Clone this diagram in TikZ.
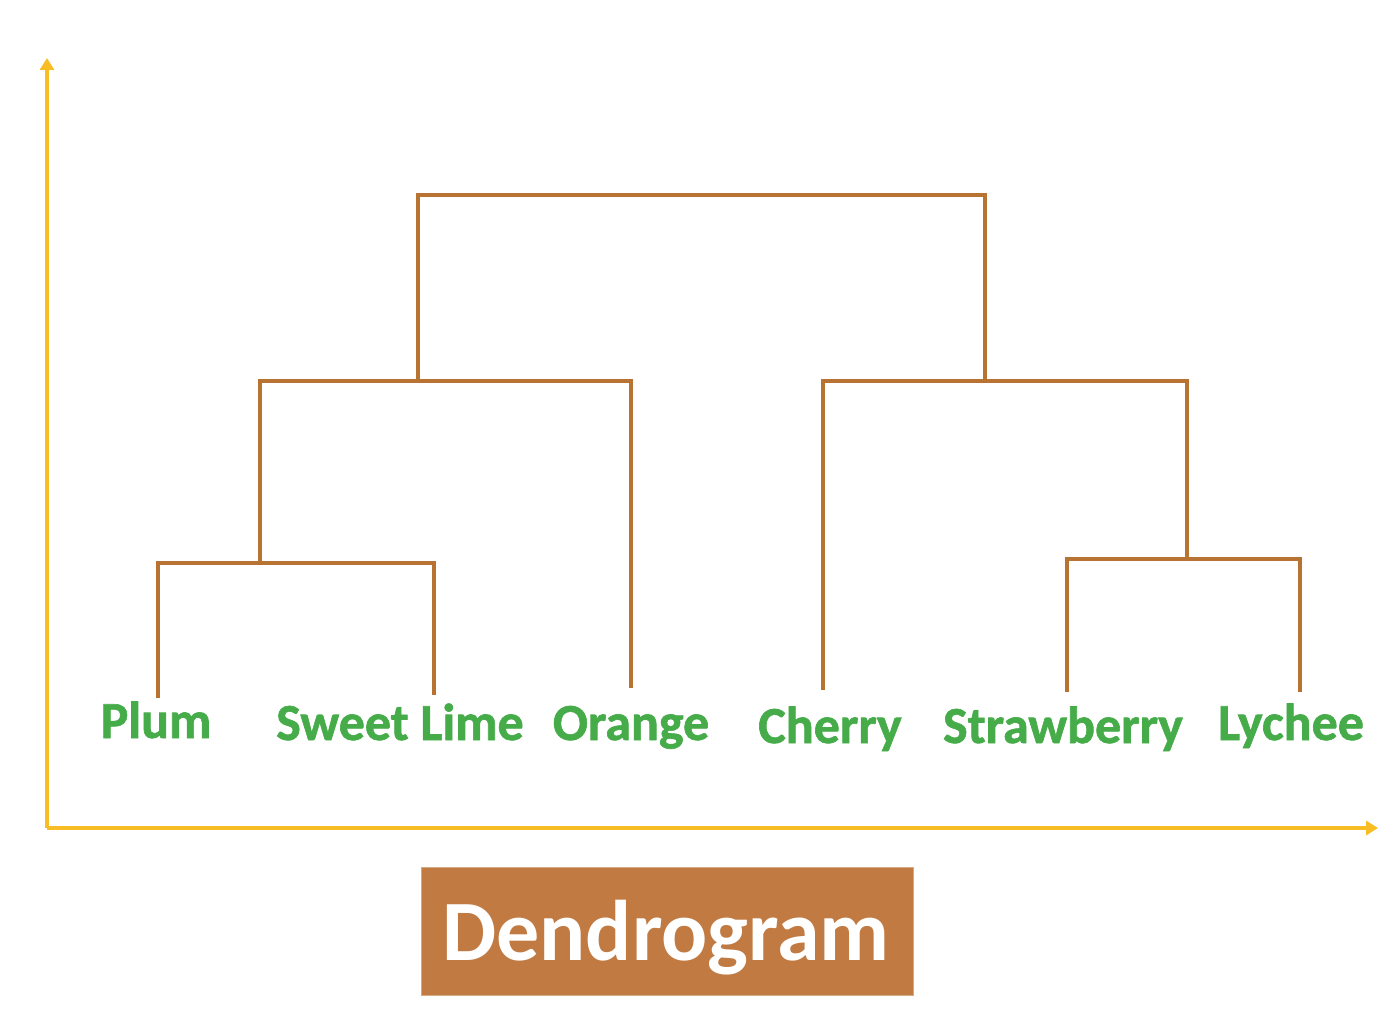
\documentclass[tikz,border=0pt]{standalone}
\usepackage{fontspec}
\setmainfont{Carlito}
\newfontfamily\leaffont{Carlito Bold}[FakeBold=1.2]
\usepackage{tikz}
\usetikzlibrary{arrows.meta}
\usetikzlibrary{calc}
\definecolor{axisyellow}{RGB}{248,188,36}
\definecolor{copper}{RGB}{184,115,51}
\definecolor{boxbrown}{RGB}{192,122,66}
\definecolor{leafgreen}{RGB}{70,172,74}
\tikzset{
	axis/.style={draw=axisyellow, line width=2pt, -{Triangle[width=7pt,length=6pt]}},
	branch/.style={draw=copper, line width=1.7pt},
	leaf/.style={anchor=base, text=leafgreen, font=\fontsize{26}{30}\selectfont\leaffont, inner sep=0pt},
}

\begin{document}
\begin{tikzpicture}[x=0.5pt, y=-0.5pt]
		\useasboundingbox (0,0) rectangle (1400,1032);
		% axes
		\coordinate (o) at (47,828);
		\coordinate (ytip) at (47,58);
		\coordinate (xtip) at (1378,828);
		\draw[axis] (o) -- (ytip);
		\draw[axis] (o) -- (xtip);
		% leaves
		\coordinate (plum) at (158,698);
		\coordinate (swl) at (434,695);
		\coordinate (orange) at (631,688);
		\coordinate (cherry) at (823,690);
		\coordinate (straw) at (1067,692);
		\coordinate (lychee) at (1300,692);
		\node[leaf] (plumtxt) at (156,738) {Plum};
		\node[leaf] (swltxt) at (400,740) {Sweet Lime};
		\node[leaf] (orangetxt) at (631,740) {Orange};
		\node[leaf] (cherrytxt) at (830,743) {Cherry};
		\node[leaf] (strawtxt) at (1063,743) {Strawberry};
		\node[leaf] (lycheetxt) at (1291,740) {Lychee};
		% merges
		\coordinate (m1) at (260,563);
		\coordinate (m2) at (418,381);
		\coordinate (m3) at (1187,559);
		\coordinate (m4) at (985,381);
		\coordinate (root) at (700,195);
		\draw[branch] (plum) |- (m1) -| (swl);
		\draw[branch] (m1) |- (m2) -| (orange);
		\draw[branch] (straw) |- (m3) -| (lychee);
		\draw[branch] (cherry) |- (m4) -| (m3);
		\draw[branch] (m2) |- (root) -| (m4);
		% title
		\node[fill=boxbrown, draw=copper!60!white, minimum width=246pt, minimum height=64pt, inner sep=0pt] (title) at (667,931) {};
		\node[anchor=base, text=white, font=\fontsize{43}{48}\selectfont\bfseries, inner sep=0pt] (titletxt) at (666,960) {Dendrogram};
\end{tikzpicture}
\end{document}
